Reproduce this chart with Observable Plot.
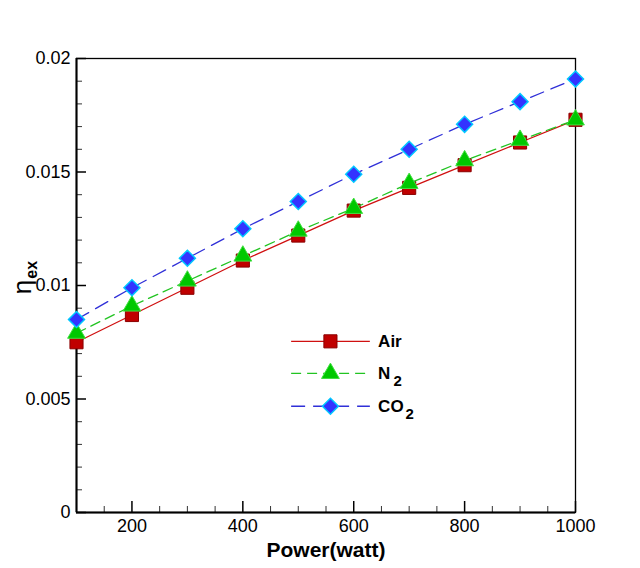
<!DOCTYPE html>
<html>
<head>
<meta charset="utf-8">
<script src="https://cdn.jsdelivr.net/npm/d3@7"></script>
<script src="https://cdn.jsdelivr.net/npm/@observablehq/plot@0.6"></script>
<style>
  html, body { margin: 0; padding: 0; background: #ffffff; }
  #chart svg { display: block; }
</style>
</head>
<body>
<div id="chart"></div>
<script>
// ---- data ----
const power = [100, 200, 300, 400, 500, 600, 700, 800, 900, 1000];
const air   = [0.0075, 0.0087, 0.0099, 0.0111, 0.0122, 0.0133, 0.0143, 0.0153, 0.0163, 0.0173];
const n2    = [0.0079, 0.0091, 0.0102, 0.0113, 0.0124, 0.0134, 0.0145, 0.0155, 0.0164, 0.0173];
const co2   = [0.0085, 0.0099, 0.0112, 0.0125, 0.0137, 0.0149, 0.0160, 0.0171, 0.0181, 0.0191];

const xTicks = [200, 400, 600, 800, 1000];
const xMinor = [150, 250, 300, 350, 450, 500, 550, 650, 700, 750, 850, 900, 950];
const yTicks = [0, 0.005, 0.01, 0.015, 0.02];
const yTickLabels = ["0", "0.005", "0.01", "0.015", "0.02"];
const yMinor = [0.001, 0.002, 0.003, 0.004, 0.006, 0.007, 0.008, 0.009,
                0.011, 0.012, 0.013, 0.014, 0.016, 0.017, 0.018, 0.019];

const seriesNames = ["Air", "N2", "CO2"];

// ---- styles ----
const styles = {
  Air: {line: "#d01010", dash: null,   symbol: "square",   fill: "#c00000", stroke: "#8a0000", r: 7.4, sw: 1},
  N2:  {line: "#22c422", dash: "10,6", symbol: "triangle", fill: "#00c800", stroke: "#40e040", r: 6.6, sw: 1},
  CO2: {line: "#3030d8", dash: "14,8", symbol: "diamond2", fill: "#3333ff", stroke: "#00c8ff", r: 7.2, sw: 1.5}
};

const values = {Air: air, N2: n2, CO2: co2};
const rows = seriesNames.flatMap(s => power.map((p, i) => ({series: s, x: p, y: values[s][i]})));

// legend layout (in data units of the chart)
const legendLayout = {x1: 488, x2: 630, xm: 558, xt: 644, ys: [0.00754, 0.00613, 0.00468]};
const legendRows = seriesNames.map((s, i) => ({series: s, y: legendLayout.ys[i]}));

const marks = [];
// axis tick labels
marks.push(Plot.axisX({ticks: xTicks, tickSize: 0, tickPadding: 7, fontSize: 18, label: null, tickFormat: d => String(d)}));
marks.push(Plot.axisY({ticks: yTicks, tickSize: 0, tickPadding: 6, fontSize: 18, label: null,
  tickFormat: d => yTickLabels[yTicks.indexOf(d)]}));
// inward ticks
marks.push(Plot.axisX({ticks: xTicks, tickSize: 11, text: null, dy: -11, strokeWidth: 1.5, label: null}));
marks.push(Plot.axisX({ticks: xMinor, tickSize: 6, text: null, dy: -6, strokeWidth: 1, label: null, stroke: "#333"}));
marks.push(Plot.axisY({ticks: yTicks, tickSize: 10, text: null, dx: 10, strokeWidth: 1.5, label: null}));
marks.push(Plot.axisY({ticks: yMinor, tickSize: 6, text: null, dx: 6, strokeWidth: 1, label: null, stroke: "#333"}));
// frame and axis lines
marks.push(Plot.frame({stroke: "#000", strokeWidth: 1.3}));
marks.push(Plot.ruleX([100], {stroke: "#000", strokeWidth: 2}));
marks.push(Plot.ruleY([0], {stroke: "#000", strokeWidth: 2}));

// series
for (const s of seriesNames) {
  const st = styles[s];
  const data = rows.filter(d => d.series === s);
  marks.push(Plot.line(data, {x: "x", y: "y", stroke: st.line, strokeWidth: 1.3, strokeDasharray: st.dash}));
  marks.push(Plot.dot(data, {x: "x", y: "y", symbol: () => st.symbol, r: st.r, fill: st.fill, stroke: st.stroke, strokeWidth: st.sw}));
}

// legend
for (const lr of legendRows) {
  const st = styles[lr.series];
  marks.push(Plot.ruleY([lr], {y: "y", x1: legendLayout.x1, x2: legendLayout.x2, stroke: st.line, strokeWidth: 1.3, strokeDasharray: st.dash}));
  marks.push(Plot.dot([lr], {x: () => legendLayout.xm, y: "y", symbol: () => st.symbol, r: st.r, fill: st.fill, stroke: st.stroke, strokeWidth: st.sw}));
  marks.push(Plot.text([lr], {x: () => legendLayout.xt, y: "y", text: "series", textAnchor: "start", fontWeight: "bold", fontSize: 17, fill: "#000"}));
}

// axis titles
marks.push(Plot.text(["Power(watt)"], {frameAnchor: "bottom", text: d => d, dy: 44, fontWeight: "bold", fontSize: 21, fill: "#000", lineAnchor: "bottom"}));
marks.push(Plot.text(["ηex"], {frameAnchor: "left", text: d => d, dx: -54, dy: -8, rotate: -90, fontSize: 26, fill: "#000", textAnchor: "middle"}));

const chart = Plot.plot({
  width: 640,
  height: 568,
  marginTop: 58,
  marginBottom: 56,
  marginLeft: 76,
  marginRight: 65,
  x: {domain: [100, 1000]},
  y: {domain: [0, 0.02]},
  style: {fontFamily: "'Liberation Sans', Arial, sans-serif", background: "#ffffff", color: "#000"},
  marks
});

// subscripts as real text
const subs = {"N2": ["N", "2", 3, 7, 15, "bold"], "CO2": ["CO", "2", 2, 7, 15, "bold"], "ηex": ["η", "ex", 1, 6, 16, "bold"]};
chart.querySelectorAll("text").forEach(t => {
  const key = t.textContent;
  if (subs[key]) {
    const [main, sub, dx, dy, fs, fw] = subs[key];
    while (t.firstChild) t.removeChild(t.firstChild);
    const a = document.createElementNS("http://www.w3.org/2000/svg", "tspan");
    a.textContent = main;
    const b = document.createElementNS("http://www.w3.org/2000/svg", "tspan");
    b.textContent = sub;
    b.setAttribute("dx", dx);
    b.setAttribute("dy", dy);
    b.setAttribute("font-size", fs);
    b.setAttribute("font-weight", fw);
    t.appendChild(a);
    t.appendChild(b);
  }
});

document.getElementById("chart").appendChild(chart);
</script>
</body>
</html>
